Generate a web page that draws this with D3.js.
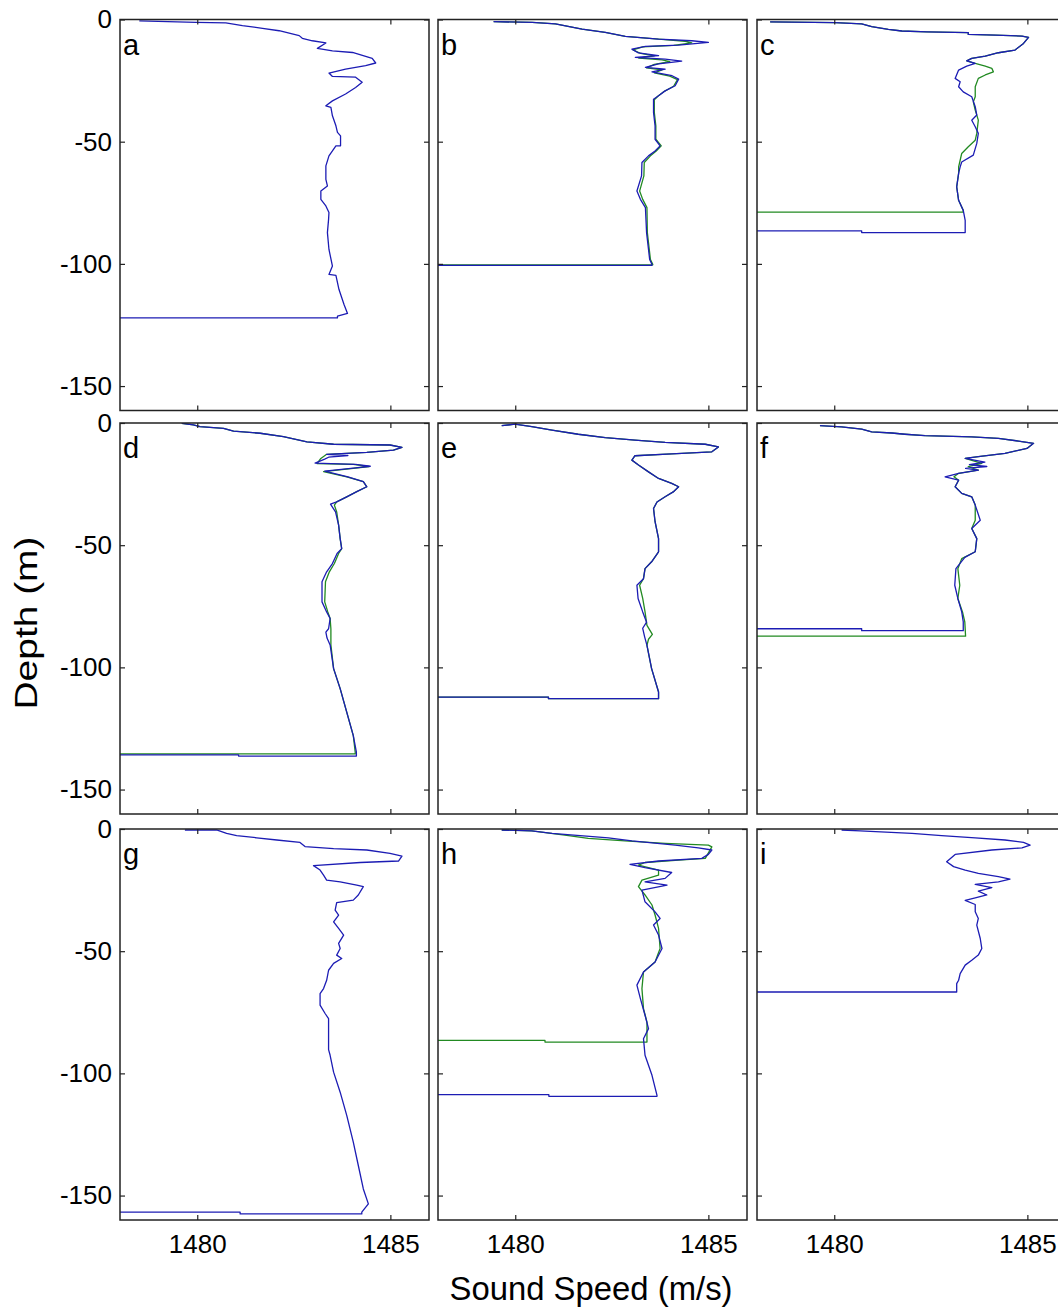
<!DOCTYPE html>
<html>
<head>
<meta charset="utf-8">
<script src="https://cdn.jsdelivr.net/npm/d3@7"></script>
<style>
  html, body { margin: 0; padding: 0; background: #fff; }
  svg { display: block; }
  text { font-family: "Liberation Sans", Arial, Helvetica, sans-serif; fill: #000; }
</style>
</head>
<body>
<svg id="chart" width="1058" height="1314"></svg>
<script>
// ---------------- DATA ----------------
const panelLabels = ["a", "b", "c", "d", "e", "f", "g", "h", "i"];
const xTicks = [1480, 1485];
const yTicks = [0, -50, -100, -150];
const xDomain = [1478, 1486];
const yDomain = [-160, 0];
const xAxisTitle = "Sound Speed (m/s)";
const yAxisTitle = "Depth (m)";

// [sound speed (m/s), depth (m)]
const aBlue = [[1478.50,-0.6],[1479.97,-1.2],[1480.74,-1.4],[1481.17,-2.5],[1481.69,-3.6],[1482.12,-4.6],[1482.64,-6.6],[1482.72,-7.7],[1482.98,-8.7],[1483.33,-9.6],[1483.11,-11.8],[1483.50,-12.8],[1484.02,-13.5],[1484.53,-15.9],[1484.62,-17.8],[1484.36,-18.9],[1483.84,-20.3],[1483.41,-21.9],[1483.50,-23.3],[1484.10,-23.6],[1484.27,-25.7],[1484.10,-27.8],[1483.84,-30.5],[1483.50,-33.3],[1483.33,-35.3],[1483.46,-36.0],[1483.50,-39.4],[1483.59,-43.5],[1483.63,-46.2],[1483.71,-47.6],[1483.71,-51.7],[1483.59,-51.7],[1483.50,-53.8],[1483.41,-55.8],[1483.33,-59.9],[1483.33,-65.4],[1483.37,-68.1],[1483.20,-70.2],[1483.20,-73.6],[1483.33,-76.3],[1483.41,-79.0],[1483.40,-81.8],[1483.37,-87.2],[1483.41,-94.1],[1483.50,-100.9],[1483.41,-104.3],[1483.59,-104.7],[1483.67,-110.5],[1483.80,-116.6],[1483.89,-120.3],[1483.63,-121.4],[1483.63,-122.1],[1477,-122.1]];

const bGreen = [[1479.44,-0.9],[1480.44,-1.2],[1481.04,-1.8],[1481.73,-3.9],[1482.33,-5.3],[1482.85,-6.9],[1483.71,-8.0],[1484.40,-8.9],[1484.57,-9.6],[1484.10,-10.6],[1483.30,-11.2],[1483.05,-12.4],[1483.25,-13.9],[1483.60,-14.9],[1483.20,-15.8],[1483.80,-16.5],[1484.00,-17.2],[1483.60,-18.4],[1483.40,-19.8],[1483.80,-20.6],[1483.60,-21.8],[1484.00,-23.2],[1484.20,-24.6],[1484.10,-27.3],[1483.86,-29.4],[1483.70,-31.3],[1483.60,-32.8],[1483.60,-38.0],[1483.64,-43.5],[1483.64,-49.0],[1483.78,-51.7],[1483.65,-53.8],[1483.50,-55.8],[1483.34,-58.5],[1483.33,-64.0],[1483.22,-70.2],[1483.30,-73.6],[1483.41,-77.0],[1483.42,-87.2],[1483.50,-98.2],[1483.56,-100.2],[1483.56,-100.4],[1477,-100.4]];
const bBlue = [[1479.44,-0.9],[1480.44,-1.2],[1481.04,-1.8],[1481.73,-3.9],[1482.33,-5.3],[1482.85,-6.9],[1483.71,-8.0],[1484.57,-8.7],[1485.00,-9.4],[1484.23,-10.5],[1483.37,-11.0],[1483.02,-12.1],[1483.19,-13.7],[1483.71,-14.8],[1483.11,-15.5],[1483.88,-16.2],[1484.31,-17.0],[1483.71,-18.2],[1483.37,-19.6],[1483.88,-20.3],[1483.54,-21.4],[1484.06,-23.0],[1484.23,-24.4],[1484.14,-27.1],[1483.88,-29.2],[1483.71,-31.2],[1483.58,-32.6],[1483.58,-38.0],[1483.62,-43.5],[1483.62,-49.0],[1483.75,-51.7],[1483.62,-53.8],[1483.45,-55.8],[1483.28,-58.5],[1483.27,-64.0],[1483.15,-70.2],[1483.24,-73.6],[1483.37,-77.0],[1483.40,-87.2],[1483.48,-98.2],[1483.54,-100.2],[1483.54,-100.6],[1480.80,-100.6],[1477,-100.6]];

const cGreen = [[1478.34,-1.0],[1480.02,-1.3],[1480.71,-1.8],[1480.97,-2.9],[1481.40,-4.0],[1481.75,-4.7],[1482.40,-5.1],[1483.47,-5.4],[1483.47,-6.1],[1484.17,-6.4],[1484.86,-6.8],[1485.03,-7.3],[1484.90,-9.8],[1484.68,-12.5],[1484.25,-13.6],[1483.91,-15.0],[1483.56,-15.9],[1483.43,-16.9],[1483.65,-18.0],[1483.91,-19.1],[1484.08,-20.0],[1484.12,-21.4],[1483.91,-22.7],[1483.73,-24.1],[1483.65,-27.5],[1483.65,-31.6],[1483.60,-33.7],[1483.65,-37.1],[1483.73,-41.2],[1483.69,-46.6],[1483.65,-49.4],[1483.47,-52.1],[1483.30,-54.8],[1483.26,-57.6],[1483.22,-60.3],[1483.22,-63.0],[1483.17,-68.5],[1483.22,-74.0],[1483.34,-78.1],[1483.34,-78.8],[1477,-78.8]];
const cBlue = [[1478.34,-1.0],[1480.02,-1.3],[1480.71,-1.8],[1480.97,-2.9],[1481.40,-4.0],[1481.75,-4.7],[1482.40,-5.1],[1483.47,-5.4],[1483.47,-6.1],[1484.17,-6.4],[1484.86,-6.8],[1485.03,-7.3],[1484.90,-9.8],[1484.68,-12.5],[1484.25,-13.6],[1483.91,-15.0],[1483.56,-15.9],[1483.43,-16.9],[1483.65,-18.0],[1483.43,-19.1],[1483.22,-20.7],[1483.13,-24.1],[1483.26,-25.5],[1483.22,-27.5],[1483.34,-29.6],[1483.56,-31.6],[1483.65,-35.7],[1483.69,-39.1],[1483.56,-41.2],[1483.65,-43.9],[1483.73,-46.6],[1483.69,-50.7],[1483.60,-55.5],[1483.30,-58.3],[1483.26,-60.3],[1483.22,-63.0],[1483.17,-68.5],[1483.22,-74.0],[1483.34,-78.1],[1483.39,-82.2],[1483.39,-87.2],[1480.71,-87.2],[1480.71,-86.5],[1477,-86.5]];

const dGreen = [[1479.60,-0.1],[1479.90,-0.8],[1480.07,-1.5],[1480.68,-2.2],[1480.94,-3.3],[1481.63,-4.2],[1482.23,-5.6],[1482.84,-7.7],[1483.53,-8.7],[1484.99,-9.0],[1485.30,-10.0],[1485.08,-11.1],[1484.39,-12.0],[1483.35,-12.8],[1483.20,-14.5],[1483.10,-16.6],[1484.04,-16.9],[1484.45,-17.8],[1484.04,-18.6],[1483.27,-19.9],[1483.87,-22.0],[1484.30,-24.0],[1484.39,-26.1],[1484.13,-28.1],[1483.87,-30.2],[1483.61,-32.3],[1483.55,-33.6],[1483.61,-36.4],[1483.66,-41.8],[1483.70,-47.3],[1483.74,-51.4],[1483.66,-53.4],[1483.55,-57.5],[1483.42,-60.9],[1483.32,-65.0],[1483.30,-73.2],[1483.38,-77.3],[1483.44,-80.0],[1483.46,-84.2],[1483.46,-90.8],[1483.53,-100.5],[1483.70,-108.7],[1483.87,-118.3],[1484.04,-127.9],[1484.09,-134.7],[1484.09,-135.4],[1477,-135.4]];
const dBlue = [[1479.60,-0.1],[1479.90,-0.8],[1480.07,-1.5],[1480.68,-2.2],[1480.94,-3.3],[1481.63,-4.2],[1482.23,-5.6],[1482.84,-7.7],[1483.53,-8.7],[1484.99,-9.0],[1485.30,-10.0],[1485.08,-11.1],[1484.39,-12.0],[1483.35,-12.8],[1483.90,-13.3],[1483.40,-14.0],[1483.30,-14.8],[1483.05,-16.4],[1484.10,-16.9],[1484.48,-17.7],[1484.10,-18.4],[1483.30,-19.7],[1483.90,-22.0],[1484.30,-24.0],[1484.39,-26.1],[1484.13,-28.1],[1483.87,-30.2],[1483.61,-32.3],[1483.45,-33.2],[1483.58,-36.4],[1483.66,-41.8],[1483.70,-47.3],[1483.74,-51.4],[1483.62,-53.4],[1483.50,-57.5],[1483.35,-60.9],[1483.23,-65.0],[1483.23,-73.2],[1483.35,-77.3],[1483.44,-80.0],[1483.40,-84.2],[1483.33,-85.6],[1483.36,-88.0],[1483.44,-90.8],[1483.53,-100.5],[1483.70,-108.7],[1483.87,-118.3],[1484.04,-127.9],[1484.12,-134.7],[1484.12,-136.3],[1481.07,-136.3],[1481.07,-135.8],[1477,-135.8]];

const eGreen = [[1479.65,-1.1],[1479.99,-0.5],[1480.43,-1.5],[1480.95,-2.9],[1481.63,-4.6],[1482.33,-6.0],[1483.10,-7.0],[1483.88,-7.9],[1484.92,-8.7],[1485.26,-9.8],[1485.09,-11.8],[1484.05,-12.6],[1483.10,-13.4],[1483.02,-15.2],[1483.19,-17.2],[1483.45,-20.0],[1483.71,-22.7],[1484.05,-24.7],[1484.23,-26.1],[1484.09,-28.2],[1483.88,-30.2],[1483.67,-32.3],[1483.58,-35.0],[1483.62,-40.4],[1483.71,-47.3],[1483.71,-52.7],[1483.53,-56.8],[1483.36,-59.6],[1483.32,-63.7],[1483.22,-66.4],[1483.30,-71.8],[1483.36,-77.3],[1483.41,-82.8],[1483.55,-86.5],[1483.45,-88.5],[1483.41,-91.0],[1483.53,-100.5],[1483.71,-110.1],[1483.71,-112.8],[1480.86,-112.8],[1480.86,-112.2],[1477,-112.2]];
const eBlue = [[1479.65,-1.1],[1479.99,-0.5],[1480.43,-1.5],[1480.95,-2.9],[1481.63,-4.6],[1482.33,-6.0],[1483.10,-7.0],[1483.88,-7.9],[1484.92,-8.7],[1485.26,-9.8],[1485.09,-11.8],[1484.05,-12.6],[1483.10,-13.4],[1483.02,-15.2],[1483.19,-17.2],[1483.45,-20.0],[1483.71,-22.7],[1484.05,-24.7],[1484.23,-26.1],[1484.09,-28.2],[1483.88,-30.2],[1483.67,-32.3],[1483.58,-35.0],[1483.62,-40.4],[1483.71,-47.3],[1483.71,-52.7],[1483.53,-56.8],[1483.36,-59.6],[1483.32,-63.7],[1483.15,-66.4],[1483.18,-71.8],[1483.30,-77.3],[1483.40,-81.5],[1483.30,-84.0],[1483.35,-87.5],[1483.41,-91.0],[1483.53,-100.5],[1483.71,-110.1],[1483.71,-112.8],[1480.86,-112.8],[1480.86,-112.2],[1477,-112.2]];

const fGreen = [[1479.63,-1.1],[1480.19,-1.6],[1480.71,-2.5],[1480.97,-3.6],[1481.49,-4.1],[1481.83,-4.6],[1482.35,-5.2],[1483.56,-5.7],[1484.25,-6.3],[1484.77,-7.4],[1485.16,-8.3],[1484.99,-10.4],[1484.42,-12.4],[1483.73,-13.8],[1483.39,-14.5],[1483.82,-16.5],[1483.47,-17.9],[1483.73,-19.3],[1483.22,-20.6],[1483.10,-22.0],[1483.22,-23.4],[1483.13,-26.1],[1483.30,-28.8],[1483.56,-30.2],[1483.65,-33.6],[1483.65,-39.8],[1483.56,-43.2],[1483.69,-47.3],[1483.65,-52.7],[1483.30,-55.5],[1483.20,-59.6],[1483.25,-66.4],[1483.20,-71.8],[1483.32,-77.3],[1483.38,-81.4],[1483.40,-87.2],[1477,-87.2]];
const fBlue = [[1479.63,-1.1],[1480.19,-1.6],[1480.71,-2.5],[1480.97,-3.6],[1481.49,-4.1],[1481.83,-4.6],[1482.35,-5.2],[1483.56,-5.7],[1484.25,-6.3],[1484.77,-7.4],[1485.16,-8.3],[1484.99,-10.4],[1484.42,-12.4],[1483.73,-13.8],[1483.39,-14.5],[1483.90,-16.0],[1483.50,-17.0],[1483.95,-17.8],[1483.40,-18.6],[1483.73,-19.3],[1483.22,-20.6],[1482.87,-22.0],[1483.22,-23.4],[1483.13,-26.1],[1483.30,-28.8],[1483.56,-30.2],[1483.65,-33.6],[1483.78,-39.8],[1483.56,-43.2],[1483.69,-47.3],[1483.65,-52.7],[1483.38,-55.0],[1483.15,-59.6],[1483.12,-66.4],[1483.20,-71.8],[1483.30,-77.3],[1483.34,-81.4],[1483.34,-85.0],[1480.71,-85.0],[1480.71,-84.2],[1477,-84.2]];

const gBlue = [[1479.68,-0.4],[1480.50,-0.4],[1480.76,-1.8],[1481.02,-2.7],[1481.54,-3.6],[1482.06,-4.5],[1482.66,-5.5],[1482.79,-7.2],[1483.53,-8.0],[1484.39,-8.6],[1484.99,-10.0],[1485.30,-11.1],[1485.21,-13.1],[1484.22,-13.7],[1483.01,-15.0],[1483.18,-16.8],[1483.27,-18.9],[1483.35,-20.9],[1483.70,-21.6],[1484.13,-23.0],[1484.30,-23.6],[1484.17,-27.0],[1484.04,-29.1],[1483.61,-30.1],[1483.57,-33.2],[1483.66,-35.2],[1483.53,-38.0],[1483.66,-40.7],[1483.79,-43.4],[1483.66,-46.8],[1483.70,-48.9],[1483.61,-51.6],[1483.74,-53.0],[1483.53,-55.0],[1483.40,-57.8],[1483.35,-61.9],[1483.27,-65.3],[1483.18,-67.4],[1483.18,-72.1],[1483.31,-75.5],[1483.40,-77.6],[1483.40,-90.3],[1483.44,-92.6],[1483.53,-99.5],[1483.70,-107.7],[1483.87,-117.2],[1484.04,-128.1],[1484.17,-137.7],[1484.30,-147.3],[1484.43,-153.4],[1484.26,-156.8],[1484.26,-157.5],[1481.11,-157.5],[1481.11,-156.8],[1477,-156.8]];

const hGreen = [[1479.65,-0.4],[1480.43,-0.8],[1481.38,-2.7],[1481.89,-3.8],[1482.84,-4.9],[1483.88,-5.9],[1485.00,-6.6],[1485.09,-7.3],[1484.92,-12.0],[1484.23,-12.7],[1483.36,-13.7],[1483.19,-14.8],[1483.71,-16.8],[1483.71,-18.9],[1483.28,-20.9],[1483.19,-23.6],[1483.36,-27.0],[1483.54,-31.1],[1483.62,-35.2],[1483.71,-40.7],[1483.75,-48.9],[1483.62,-54.4],[1483.32,-58.5],[1483.28,-65.3],[1483.32,-73.5],[1483.41,-79.0],[1483.41,-87.2],[1480.77,-87.2],[1480.77,-86.5],[1477,-86.5]];
const hBlue = [[1479.65,-0.4],[1480.43,-0.8],[1480.95,-1.8],[1482.41,-3.6],[1483.02,-4.9],[1484.14,-6.6],[1484.74,-7.7],[1485.09,-8.6],[1485.00,-10.4],[1484.83,-12.0],[1483.71,-13.1],[1482.97,-14.5],[1483.36,-15.8],[1484.05,-17.8],[1483.88,-20.2],[1483.36,-21.6],[1483.93,-23.0],[1483.28,-25.0],[1483.36,-29.8],[1483.62,-33.9],[1483.75,-36.6],[1483.58,-39.3],[1483.71,-43.4],[1483.80,-48.9],[1483.62,-54.4],[1483.32,-58.5],[1483.15,-63.9],[1483.24,-69.4],[1483.36,-76.2],[1483.45,-81.7],[1483.32,-85.8],[1483.36,-92.6],[1483.54,-100.8],[1483.67,-109.0],[1483.67,-109.4],[1480.87,-109.4],[1480.87,-108.7],[1477,-108.7]];

const iBlue = [[1480.19,-0.4],[1480.67,-0.8],[1482.01,-1.8],[1482.78,-2.7],[1483.65,-3.6],[1484.42,-4.5],[1484.90,-5.5],[1485.07,-6.6],[1484.86,-7.7],[1484.08,-8.6],[1483.13,-10.4],[1482.91,-13.4],[1483.09,-15.4],[1483.39,-16.8],[1483.73,-18.2],[1484.25,-19.5],[1484.55,-20.5],[1484.25,-21.6],[1483.65,-22.7],[1484.08,-24.0],[1483.73,-25.4],[1483.95,-27.0],[1483.65,-28.2],[1483.39,-29.2],[1483.65,-30.9],[1483.65,-33.9],[1483.73,-36.6],[1483.69,-39.3],[1483.78,-44.8],[1483.82,-48.9],[1483.73,-51.6],[1483.56,-53.7],[1483.39,-55.7],[1483.26,-59.2],[1483.22,-61.9],[1483.17,-63.3],[1483.17,-66.7],[1477,-66.7]];

// green drawn first, blue on top
const panelSeries = [
  [aBlue],
  [bGreen, bBlue],
  [cGreen, cBlue],
  [dGreen, dBlue],
  [eGreen, eBlue],
  [fGreen, fBlue],
  [gBlue],
  [hGreen, hBlue],
  [iBlue]
];
const panelSeriesColors = [
  ["blue"], ["green","blue"], ["green","blue"],
  ["green","blue"], ["green","blue"], ["green","blue"],
  ["blue"], ["green","blue"], ["blue"]
];

// ---------------- LAYOUT / STYLE ----------------
const colLeft = [120, 438, 757];
const rowTop = [19.5, 423, 829];
const panelW = 309, panelH = 391;
const colors = { blue: "#1c1cb4", green: "#228a22" };
const fmt = d => String(d);   // plain hyphen-minus, as in the original

const svg = d3.select("#chart");
svg.append("rect").attr("width", 1058).attr("height", 1314).attr("fill", "#fff");

panelLabels.forEach((lab, k) => {
  const col = k % 3, row = Math.floor(k / 3);
  const x0 = colLeft[col], y0 = rowTop[row];
  const x = d3.scaleLinear().domain(xDomain).range([0, panelW]);
  const y = d3.scaleLinear().domain(yDomain).range([panelH, 0]);
  const g = svg.append("g").attr("transform", `translate(${x0},${y0})`);

  const clipId = "clip" + k;
  g.append("clipPath").attr("id", clipId)
    .append("rect").attr("width", panelW).attr("height", panelH);

  const line = d3.line().x(d => x(d[0])).y(d => y(d[1]));
  const plot = g.append("g").attr("clip-path", `url(#${clipId})`);
  panelSeries[k].forEach((s, j) => {
    plot.append("path").datum(s)
      .attr("d", line)
      .attr("fill", "none")
      .attr("stroke", colors[panelSeriesColors[k][j]])
      .attr("stroke-width", 1.3)
      .attr("stroke-linejoin", "round");
  });

  // axes with inward ticks
  const axStyle = sel => {
    sel.select(".domain").remove();
    sel.selectAll(".tick line").attr("stroke", "#222").attr("stroke-width", 1.2);
    sel.selectAll(".tick text").style("font-size", "26px")
      .style("font-family", '"Liberation Sans", Arial, sans-serif').attr("fill", "#000");
  };
  const left = d3.axisLeft(y).tickValues(yTicks).tickSize(-5).tickPadding(8)
    .tickFormat(col === 0 ? fmt : () => "");
  g.append("g").call(left).call(axStyle);
  const right = d3.axisRight(y).tickValues(yTicks).tickSize(-5).tickFormat(() => "");
  g.append("g").attr("transform", `translate(${panelW},0)`).call(right).call(axStyle);
  const bottom = d3.axisBottom(x).tickValues(xTicks).tickSize(-5).tickPadding(15)
    .tickFormat(row === 2 ? fmt : () => "");
  g.append("g").attr("transform", `translate(0,${panelH})`).call(bottom).call(axStyle);
  const top = d3.axisTop(x).tickValues(xTicks).tickSize(-5).tickFormat(() => "");
  g.append("g").call(top).call(axStyle);

  // frame
  g.append("rect").attr("width", panelW).attr("height", panelH)
    .attr("fill", "none").attr("stroke", "#222").attr("stroke-width", 1.5);

  // panel letter
  g.append("text").attr("x", 3).attr("y", 35)
    .style("font-size", "29px").text(lab);
});

// axis titles
svg.append("text")
  .attr("x", 591).attr("y", 1300)
  .attr("text-anchor", "middle")
  .attr("textLength", 283).attr("lengthAdjust", "spacingAndGlyphs")
  .style("font-size", "33px")
  .text(xAxisTitle);

svg.append("text")
  .attr("transform", "translate(37,623) rotate(-90)")
  .attr("text-anchor", "middle")
  .attr("textLength", 173).attr("lengthAdjust", "spacingAndGlyphs")
  .style("font-size", "32px")
  .text(yAxisTitle);
</script>
</body>
</html>
